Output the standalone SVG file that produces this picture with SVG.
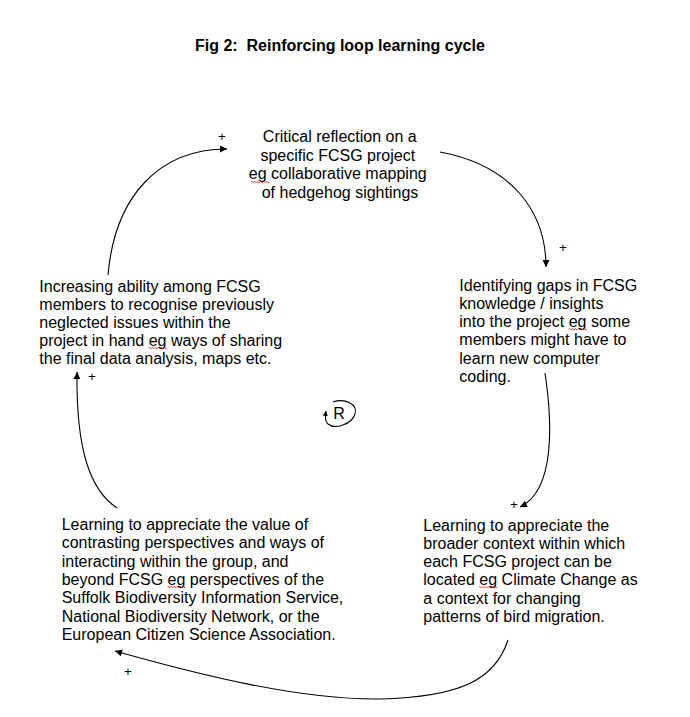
<svg xmlns="http://www.w3.org/2000/svg" width="690" height="717" viewBox="0 0 690 717">
<style>
text{font-family:"Liberation Sans",Arial,sans-serif;fill:#000}
.t{font-size:16px}
.title{font-size:16px;font-weight:bold;white-space:pre}
.plus{font-size:13.5px;text-anchor:middle}
.c{fill:none;stroke:#000;stroke-width:1.1}
.wavy{fill:none;stroke:#e0201a;stroke-width:0.9}
</style>
<defs>
<marker id="ah" viewBox="0 0 10 10" refX="10" refY="5" markerUnits="userSpaceOnUse" markerWidth="8" markerHeight="7" orient="auto">
<path d="M0,0 L10,5 L0,10 z" fill="#000"/>
</marker>
<marker id="ahs" viewBox="0 0 10 10" refX="10" refY="5" markerUnits="userSpaceOnUse" markerWidth="6" markerHeight="5" orient="auto">
<path d="M0,0 L10,5 L0,10 z" fill="#000"/>
</marker>
<path id="wave" d="M0,0 q0.75,-1.6 1.5,0 t1.5,0 t1.5,0 t1.5,0 t1.5,0 t1.5,0 t1.5,0 t1.5,0 t1.5,0 t1.5,0 t1.5,0 t1.5,0"/>
</defs>
<rect width="690" height="717" fill="#fff"/>
<text class="title" x="195" y="51" xml:space="preserve">Fig 2:  Reinforcing loop learning cycle</text>

<g id="connectors">
<path class="c" d="M108,275 C115,195 160,149 227,149" marker-end="url(#ah)"/>
<path class="c" d="M440,152 C510,165 546,210 546,267" marker-end="url(#ah)"/>
<path class="c" d="M545,373 C552,420 556,490 520,507" marker-end="url(#ah)"/>
<path class="c" d="M508,640 C495,680 460,697 380,699 C300,700 200,675 115,651" marker-end="url(#ah)"/>
<path class="c" d="M117,508 C90,490 76,450 77,372" marker-end="url(#ah)"/>
<text class="plus" x="222" y="141">+</text>
<text class="plus" x="563" y="252">+</text>
<text class="plus" x="514" y="509">+</text>
<text class="plus" x="128" y="676">+</text>
<text class="plus" x="92" y="381">+</text>
</g>

<g id="n-top">
<text class="t" text-anchor="middle">
<tspan x="342" y="142">Critical reflection on a</tspan>
<tspan x="340" y="160.7">specific FCSG project</tspan>
<tspan x="340" y="179.3">eg collaborative mapping</tspan>
<tspan x="340" y="198">of hedgehog sightings</tspan>
</text>
<use href="#wave" class="wavy" x="251" y="182"/>
</g>

<g id="n-right">
<text class="t">
<tspan x="459.3" y="290.7">Identifying gaps in FCSG</tspan>
<tspan x="459.3" y="308.9">knowledge / insights</tspan>
<tspan x="459.3" y="327.1">into the project eg some</tspan>
<tspan x="459.3" y="345.3">members might have to</tspan>
<tspan x="459.3" y="363.5">learn new computer</tspan>
<tspan x="459.3" y="381.7">coding.</tspan>
</text>
<use href="#wave" class="wavy" x="568.7" y="329.3"/>
</g>

<g id="n-bottomright">
<text class="t">
<tspan x="423.3" y="530.7">Learning to appreciate the</tspan>
<tspan x="423.3" y="548.9">broader context within which</tspan>
<tspan x="423.3" y="567.1">each FCSG project can be</tspan>
<tspan x="423.3" y="585.3">located eg Climate Change as</tspan>
<tspan x="423.3" y="603.5">a context for changing</tspan>
<tspan x="423.3" y="621.7">patterns of bird migration.</tspan>
</text>
<use href="#wave" class="wavy" x="479.3" y="587.3"/>
</g>

<g id="n-bottomleft">
<text class="t">
<tspan x="61.7" y="530">Learning to appreciate the value of</tspan>
<tspan x="61.7" y="548.3">contrasting perspectives and ways of</tspan>
<tspan x="61.7" y="566.7">interacting within the group, and</tspan>
<tspan x="61.7" y="585">beyond FCSG eg perspectives of the</tspan>
<tspan x="61.7" y="603.3">Suffolk Biodiversity Information Service,</tspan>
<tspan x="61.7" y="621.7">National Biodiversity Network, or the</tspan>
<tspan x="61.7" y="640">European Citizen Science Association.</tspan>
</text>
<use href="#wave" class="wavy" x="167.5" y="587"/>
</g>

<g id="n-left">
<text class="t">
<tspan x="39.3" y="291.7">Increasing ability among FCSG</tspan>
<tspan x="39.3" y="309.8">members to recognise previously</tspan>
<tspan x="39.3" y="327.9">neglected issues within the</tspan>
<tspan x="39.3" y="346">project in hand eg ways of sharing</tspan>
<tspan x="39.3" y="364.1">the final data analysis, maps etc.</tspan>
</text>
<use href="#wave" class="wavy" x="148.7" y="348"/>
</g>

<g id="r-loop">
<path class="c" d="M333,402 C345,398 358,404 355,414 C352,424 335,430 328,424 C325,421 325,418 326,411" marker-end="url(#ahs)"/>
<text class="t" x="339" y="419" text-anchor="middle" style="font-size:16px">R</text>
</g>
</svg>
